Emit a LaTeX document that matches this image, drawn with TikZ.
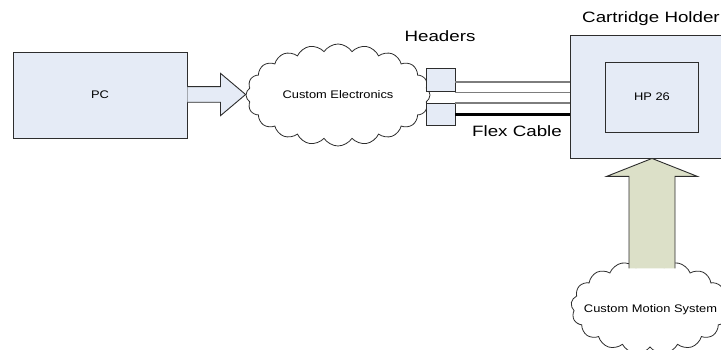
\documentclass[tikz,border=0pt]{standalone}
\usepackage{fontspec}
\setmainfont{Liberation Sans}
\usetikzlibrary{shapes.symbols,calc}
\definecolor{boxfill}{RGB}{229,235,246}
\definecolor{arrfill}{RGB}{220,224,200}
\definecolor{edge}{RGB}{45,45,45}
\definecolor{wire}{RGB}{125,125,125}
\newcommand\smalltxt[1]{\scalebox{1.17}[1]{\fontsize{11}{13}\selectfont #1}}
\newcommand\bigtxt[1]{\scalebox{1.25}[1]{\fontsize{15}{18}\selectfont #1}}
\begin{document}
\begin{tikzpicture}[x=1pt,y=-1pt,
  blockbox/.style={draw=edge,line width=0.9pt,fill=boxfill,inner sep=0pt},
  cloudnode/.style={cloud,draw=edge,line width=0.8pt,fill=white,cloud puffs=20,cloud puff arc=115,cloud ignores aspect,inner sep=0pt},
  fatarrow/.style={draw=edge,line width=0.9pt,line join=miter},
  graywire/.style={draw=wire,line width=1.6pt},
  blackwire/.style={draw=black,line width=2.2pt},
  lbl/.style={inner sep=0pt,anchor=base}]
\useasboundingbox (0,0) rectangle (721,350);
\fill[white] (0,0) rectangle (721,350);
% PC
\node[blockbox,minimum width=174pt,minimum height=86pt] (pc) at (100,95) {\smalltxt{PC}};
% Custom electronics cloud
\node[cloudnode,minimum width=184pt,minimum height=102pt] (ce) at (338,95) {\smalltxt{Custom Electronics}};
% fat arrow PC -> cloud
\path (pc.east) ++(0,-0.5) coordinate (a0);
\coordinate (atip) at (ce.west |- a0);
\filldraw[fatarrow,fill=boxfill]
  ($(a0)+(0,-7.8)$) -- ($(a0)+(33,-7.8)$) -- ($(a0)+(33,-21.2)$) -- (atip)
  -- ($(a0)+(33,21.2)$) -- ($(a0)+(33,7.8)$) -- ($(a0)+(0,7.8)$);
% headers
\node[blockbox,minimum width=29pt,minimum height=22.5pt] (h1) at (440.5,80) {};
\node[blockbox,minimum width=29pt,minimum height=21.5pt] (h2) at (440.5,114.5) {};
\node[lbl] (hlab) at (440,41.5) {\bigtxt{Headers}};
% cartridge holder
\node[blockbox,minimum width=164pt,minimum height=123pt] (holder) at (652,96.5) {};
\node[draw=edge,line width=0.9pt,fill=boxfill,minimum width=93pt,minimum height=70pt,inner sep=0pt] (hp) at (651.5,97) {};
\node[lbl] (hptxt) at (652,100.5) {\smalltxt{HP 26}};
\node[lbl] (chlab) at (651,22.7) {\bigtxt{Cartridge Holder}};
% wires
\draw[graywire] (h1.east |- 0,82) -- (holder.west |- 0,82);
\draw[graywire] (h1.east |- 0,92.7) -- (holder.west |- 0,92.7);
\draw[graywire] (h2.east |- 0,103.3) -- (holder.west |- 0,103.3);
\draw[blackwire] (h2.east |- 0,114.5) -- (holder.west |- 0,114.5);
\node[lbl] (flex) at (517,136.7) {\bigtxt{Flex Cable}};
% motion cloud
\node[cloudnode,cloud puffs=17,minimum width=158pt,minimum height=94pt] (mc) at (650,307) {};
\node[lbl] (mctxt) at (650.5,312) {\smalltxt{Custom Motion System}};
% vertical arrow
\coordinate (vt) at (holder.south);
\fill[arrfill] ($(vt)+(23,110)$) -- ($(vt)+(23,18)$) -- ($(vt)+(45.5,18)$) -- (vt)
  -- ($(vt)+(-45.5,18)$) -- ($(vt)+(-23,18)$) -- ($(vt)+(-23,110)$) -- cycle;
\draw[fatarrow] ($(vt)+(23,110)$) -- ($(vt)+(23,18)$) -- ($(vt)+(45.5,18)$) -- (vt)
  -- ($(vt)+(-45.5,18)$) -- ($(vt)+(-23,18)$) -- ($(vt)+(-23,110)$);
\end{tikzpicture}
\end{document}
